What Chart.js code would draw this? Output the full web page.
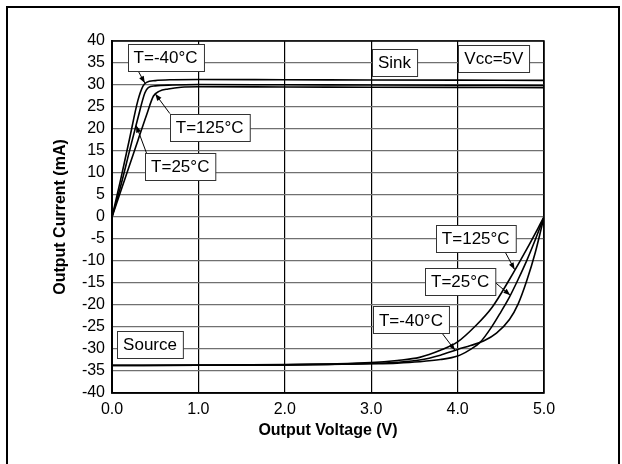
<!DOCTYPE html>
<html>
<head>
<meta charset="utf-8">
<script src="https://cdn.jsdelivr.net/npm/chart.js@4.4.1/dist/chart.umd.min.js"></script>
<style>
  html, body { margin: 0; padding: 0; background: #fff; overflow: hidden; }
  #wrap { position: relative; width: 622px; height: 464px; }
  #frame { position: absolute; left: 6px; top: 6px; width: 614px; height: 470px;
           border: 2px solid #000; border-bottom: none; box-sizing: border-box; }
  canvas { position: absolute; left: 0; top: 0; }
</style>
</head>
<body>
<div id="wrap">
  <div id="frame"></div>
  <canvas id="chart" width="622" height="464"></canvas>
</div>
<script>
// Output current vs output voltage, Vcc = 5V

// Sink side (positive current)
const sinkVoltsM40 = [0, 0.1, 0.2, 0.3, 0.36, 0.4, 0.5, 0.7, 1.0, 2.0, 3.0, 4.0, 5.0];
const sinkCurrM40  = [0, 8.5, 17.5, 26.5, 29.8, 30.6, 31.0, 31.2, 31.25, 31.2, 31.15, 31.1, 31.05];

const sinkVolts25  = [0, 0.1, 0.2, 0.3, 0.38, 0.42, 0.5, 0.7, 1.0, 2.0, 3.0, 4.0, 5.0];
const sinkCurr25   = [0, 7.0, 14.8, 22.5, 28.2, 29.4, 29.8, 30.0, 30.1, 30.05, 30.0, 29.95, 29.9];

const sinkVolts125 = [0, 0.1, 0.2, 0.3, 0.4, 0.48, 0.55, 0.65, 0.8, 1.0, 2.0, 3.0, 4.0, 5.0];
const sinkCurr125  = [0, 5.8, 11.6, 17.4, 23.2, 27.5, 28.6, 29.1, 29.5, 29.6, 29.55, 29.5, 29.45, 29.4];

// Source side (negative current)
const srcVolts125 = [0, 1.0, 2.0, 2.5, 3.0, 3.3, 3.56, 3.8, 4.0, 4.2, 4.4, 4.6, 4.8, 5.0];
const srcCurr125  = [-33.7, -33.65, -33.55, -33.4, -33.1, -32.6, -31.9, -30.3, -28.4, -24.9, -20.5, -14.2, -7.3, 0];

const srcVoltsM40 = [0, 1.0, 2.0, 2.5, 3.0, 3.3, 3.56, 3.8, 4.0, 4.15, 4.3, 4.45, 4.6, 4.7, 4.8, 4.9, 5.0];
const srcCurrM40  = [-33.75, -33.7, -33.6, -33.5, -33.3, -33.0, -32.5, -31.4, -30.1, -29.2, -28.2, -26.4, -23.3, -19.8, -14.5, -8.0, 0];

const srcVolts25  = [0, 1.0, 2.0, 2.5, 3.0, 3.3, 3.56, 3.8, 4.0, 4.13, 4.26, 4.4, 4.5, 4.6, 4.7, 4.8, 4.9, 5.0];
const srcCurr25   = [-33.75, -33.7, -33.6, -33.5, -33.35, -33.2, -32.9, -32.4, -31.6, -30.3, -28.5, -24.8, -21.6, -18.2, -14.2, -9.9, -5.1, 0];

// Axis ticks
const xTicks = [0, 1, 2, 3, 4, 5];
const yTicks = [-40, -35, -30, -25, -20, -15, -10, -5, 0, 5, 10, 15, 20, 25, 30, 35, 40];

// Callout boxes, in data units: box centre, arrow tail, arrow tip
const notes = [
  { text: 'T=-40°C', at: [0.62, 36.3] , tail: [0.30, 33.3], tip: [0.38, 30.45] },
  { text: 'T=125°C', at: [1.13, 20.4] , tail: [0.67, 23.5], tip: [0.50, 28.0] },
  { text: 'T=25°C',  at: [0.79, 11.45], tail: [0.40, 14.5], tip: [0.28, 20.8] },
  { text: 'Sink',    at: [3.27, 35.2] },
  { text: 'Vcc=5V',  at: [4.42, 36.1] },
  { text: 'Source',  at: [0.44, -29.0] },
  { text: 'T=125°C', at: [4.21, -4.95], tail: [4.55, -7.95], tip: [4.66, -11.95] },
  { text: 'T=25°C',  at: [4.03, -14.6], tail: [4.43, -14.8], tip: [4.61, -17.8] },
  { text: 'T=-40°C', at: [3.46, -23.4], tail: [3.82, -26.4], tip: [3.97, -30.3] }
];

const FONT = '"Liberation Sans", Arial, Helvetica, sans-serif';

function toPoints(xs, ys) {
  return xs.map((x, i) => ({ x: x, y: ys[i] }));
}

function curve(label, xs, ys) {
  return {
    label: label,
    data: toPoints(xs, ys),
    showLine: true,
    borderColor: '#000',
    borderWidth: 1.6,
    pointRadius: 0,
    cubicInterpolationMode: 'monotone',
    fill: false
  };
}

// frame round the plot area
const plotBorder = {
  id: 'plotBorder',
  afterDatasetsDraw(chart) {
    const a = chart.chartArea;
    const ctx = chart.ctx;
    ctx.save();
    ctx.strokeStyle = '#000';
    ctx.lineWidth = 1.5;
    ctx.strokeRect(a.left, a.top, a.right - a.left, a.bottom - a.top);
    ctx.restore();
  }
};

// callout boxes with arrows
const callouts = {
  id: 'callouts',
  afterDatasetsDraw(chart) {
    const ctx = chart.ctx;
    const xs = chart.scales.x, ys = chart.scales.y;
    const px = p => [xs.getPixelForValue(p[0]), ys.getPixelForValue(p[1])];
    ctx.save();
    ctx.font = '17px ' + FONT;
    notes.forEach(n => {
      if (n.tail) {
        const [tx, ty] = px(n.tail);
        const [hx, hy] = px(n.tip);
        ctx.strokeStyle = '#000';
        ctx.lineWidth = 1;
        ctx.beginPath();
        ctx.moveTo(tx, ty);
        ctx.lineTo(hx, hy);
        ctx.stroke();
        const ang = Math.atan2(hy - ty, hx - tx);
        const len = 7, half = 2.6;
        ctx.fillStyle = '#000';
        ctx.beginPath();
        ctx.moveTo(hx, hy);
        ctx.lineTo(hx - len * Math.cos(ang) + half * Math.sin(ang), hy - len * Math.sin(ang) - half * Math.cos(ang));
        ctx.lineTo(hx - len * Math.cos(ang) - half * Math.sin(ang), hy - len * Math.sin(ang) + half * Math.cos(ang));
        ctx.closePath();
        ctx.fill();
      }
      const [cx, cy] = px(n.at);
      const w = ctx.measureText(n.text).width + 12;
      const h = 27;
      const bx = Math.round(cx - w / 2) + 0.5, by = Math.round(cy - h / 2) + 0.5;
      ctx.fillStyle = '#fff';
      ctx.fillRect(bx, by, w, h);
      ctx.strokeStyle = '#333';
      ctx.lineWidth = 1;
      ctx.strokeRect(bx, by, w, h);
      ctx.fillStyle = '#000';
      ctx.textAlign = 'center';
      ctx.textBaseline = 'middle';
      ctx.fillText(n.text, cx, cy + 1);
    });
    ctx.restore();
  }
};

new Chart(document.getElementById('chart').getContext('2d'), {
  type: 'scatter',
  data: {
    datasets: [
      curve('Sink T=-40°C', sinkVoltsM40, sinkCurrM40),
      curve('Sink T=25°C', sinkVolts25, sinkCurr25),
      curve('Sink T=125°C', sinkVolts125, sinkCurr125),
      curve('Source T=125°C', srcVolts125, srcCurr125),
      curve('Source T=-40°C', srcVoltsM40, srcCurrM40),
      curve('Source T=25°C', srcVolts25, srcCurr25)
    ]
  },
  options: {
    responsive: false,
    animation: false,
    devicePixelRatio: 1,
    layout: { padding: { left: 0, top: 41, right: 78, bottom: 0 } },
    plugins: {
      legend: { display: false },
      tooltip: { enabled: false }
    },
    scales: {
      x: {
        type: 'linear',
        min: 0,
        max: 5,
        afterFit: scale => { scale.height = 71; },
        afterBuildTicks: scale => { scale.ticks = xTicks.map(v => ({ value: v })); },
        ticks: {
          color: '#000',
          padding: 7,
          autoSkip: false,
          maxRotation: 0,
          font: { family: FONT, size: 16 },
          callback: v => v.toFixed(1)
        },
        grid: { color: '#000', lineWidth: 1.2, drawTicks: false },
        border: { color: '#000', width: 1.5 },
        title: {
          display: true,
          text: 'Output Voltage (V)',
          color: '#000',
          font: { family: FONT, size: 16, weight: 'bold' },
          padding: { top: 0, bottom: 24 }
        }
      },
      y: {
        type: 'linear',
        min: -40,
        max: 40,
        afterFit: scale => { scale.width = 112; },
        afterBuildTicks: scale => { scale.ticks = yTicks.map(v => ({ value: v })); },
        ticks: {
          color: '#000',
          padding: 7,
          autoSkip: false,
          font: { family: FONT, size: 16 },
          callback: v => String(v)
        },
        grid: { color: '#707070', lineWidth: 1.2, drawTicks: false },
        border: { color: '#000', width: 2 },
        title: {
          display: true,
          text: 'Output Current (mA)',
          color: '#000',
          font: { family: FONT, size: 16, weight: 'bold' },
          padding: { top: 51, bottom: 0 }
        }
      }
    }
  },
  plugins: [plotBorder, callouts]
});
</script>
</body>
</html>
